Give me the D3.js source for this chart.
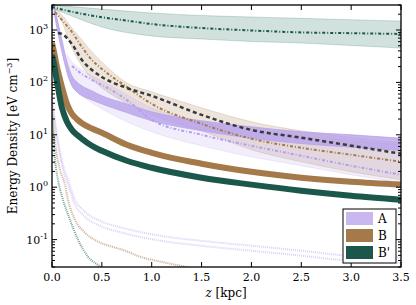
<!DOCTYPE html>
<html>
<head>
<meta charset="utf-8">
<script src="https://cdn.jsdelivr.net/npm/d3@7"></script>
<style>
  body { margin: 0; background: #fff; }
  svg { display: block; font-family: 'DejaVu Serif', serif; }
</style>
</head>
<body>
<div id="chart"></div>
<script>
// heights z [kpc] and energy densities [eV cm^-3]

// B' upper component (dash-dot) and its band
const zTealLine = [0, 0.1, 0.2, 0.3, 0.5, 0.75, 1, 1.5, 2, 2.5, 3, 3.5];
const tealLine = [2740, 2460, 2230, 2040, 1750, 1510, 1300, 1090, 980, 900, 870, 840];
const zTealBand = [0, 0.25, 0.5, 1, 1.5, 2, 2.5, 3, 3.5];
const tealBandHi = [2990, 2740, 2510, 2110, 1890, 1770, 1670, 1570, 1480];
const tealBandLo = [2620, 1690, 1140, 770, 675, 604, 565, 507, 454];

// B band (tan), B dotted, dark dashed
const zTan = [0.03, 0.1, 0.2, 0.3, 0.4, 0.5, 0.75, 1, 1.5, 2, 2.5, 3, 3.5];
const tanBandHi = [2620, 1930, 1090, 645, 381, 246, 98, 66, 32.7, 17.7, 11.9, 8.8, 7.0];
const tanBandLo = [2400, 1420, 454, 206, 117, 78.5, 40.7, 24, 11.9, 5.2, 3.06, 1.97, 1.39];
const brownDotted = [2200, 1550, 916, 474, 268, 181, 82, 38.9, 16.2, 8.4, 5.65, 4.16, 3.06];
const zDashed = [0.06, 0.1, 0.2, 0.3, 0.4, 0.5, 0.75, 1, 1.5, 2, 2.5, 3, 3.5];
const darkDashed = [877, 839, 541, 268, 173, 127, 78.5, 55.4, 24, 12.4, 8.8, 6.2, 4.35];

// A band (purple)
const zA = [0.02, 0.05, 0.1, 0.15, 0.2, 0.25, 0.3, 0.4, 0.5, 0.75, 1, 1.5, 2, 2.5, 3, 3.5];
const aHi = [2990, 1690, 645, 246, 133, 102, 85.8, 68.9, 55.4, 38.9, 27.4, 18.5, 14.2, 11.4, 10, 8.6];
const aLo = [2200, 1090, 381, 158, 85.8, 65.9, 55.4, 46.4, 38.9, 26.5, 18.5, 12.0, 8.6, 6.8, 5.8, 5.0];

// A light band and dotted
const zLav = [0.15, 0.2, 0.3, 0.4, 0.5, 0.75, 1, 1.5, 2, 2.5, 3, 3.5];
const lavHi = [334, 246, 173, 133, 107, 57.8, 32.7, 17.7, 11.9, 9.16, 7.69, 6.45];
const lavLo = [139, 89.6, 57.8, 40.7, 31.3, 17.7, 11.4, 6.17, 3.81, 2.57, 1.73, 1.22];
const zLavDot = [0.2, 0.3, 0.4, 0.5, 0.75, 1, 1.5, 2, 2.5, 3, 3.5];
const lavDotted = [206, 145, 112, 89.6, 46.4, 19.3, 10, 6.17, 3.98, 2.57, 1.73];

// thick lines B and B'
const zThick = [0, 0.02, 0.05, 0.1, 0.15, 0.2, 0.25, 0.3, 0.4, 0.5, 0.75, 1, 1.5, 2, 2.5, 3, 3.5];
const thickB = [565, 381, 197, 82, 38.9, 25.1, 19.8, 16.6, 13.2, 10.9, 6.45, 4.54, 2.81, 1.97, 1.52, 1.27, 1.12];
const thickBp = [334, 225, 102, 32.7, 17.7, 12.4, 10, 8.4, 6.17, 4.95, 3.2, 2.35, 1.52, 1.12, 0.857, 0.689, 0.578];

// faint dotted components
const zFaintTeal = [0, 0.03, 0.06, 0.11, 0.18, 0.26, 0.36, 0.48, 0.58];
const faintTeal = [24, 3.34, 1.39, 0.578, 0.24, 0.1, 0.0474, 0.0306, 0.0197];
const zFaintBrown = [0, 0.04, 0.08, 0.13, 0.16, 0.23, 0.33, 0.46, 0.6, 0.73, 0.88, 1.13, 1.38, 1.69];
const faintBrown = [29.9, 5.18, 2.15, 1.12, 0.578, 0.24, 0.136, 0.0917, 0.0736, 0.0617, 0.0474, 0.0365, 0.0293, 0.0216];
const zFaintLav = [0, 0.06, 0.11, 0.16, 0.23, 0.33, 0.5, 0.7, 1.08, 1.48, 2.09, 2.49, 2.96, 3.5];
const faintLav1 = [46.4, 8.03, 2.68, 1.39, 0.578, 0.341, 0.22, 0.169, 0.119, 0.0957, 0.0736, 0.0617, 0.0495, 0.0454];
const faintLav2 = [37.3, 6.45, 2.15, 1.12, 0.464, 0.274, 0.177, 0.136, 0.0957, 0.0769, 0.059, 0.0495, 0.0398, 0.0365];

const xTicks = [0, 0.5, 1, 1.5, 2, 2.5, 3, 3.5];
const yTicks = [0.1, 1, 10, 100, 1000];
const legendItems = ['A', 'B', "B'"];
const legendColors = ['#c8b8ef', '#a57a4a', '#1b584b'];

const width = 416, height = 305;
const m = { left: 52, right: 401, top: 5, bottom: 267 };

const x = d3.scaleLinear().domain([0, 3.5]).range([m.left, m.right]);
const y = d3.scaleLog().domain([0.03, 3000]).range([m.bottom, m.top]);

const svg = d3.select('#chart').append('svg')
  .attr('width', width).attr('height', height);

svg.append('defs').append('clipPath').attr('id', 'clip')
  .append('rect')
  .attr('x', m.left).attr('y', m.top)
  .attr('width', m.right - m.left).attr('height', m.bottom - m.top);

const plot = svg.append('g').attr('clip-path', 'url(#clip)');

const zip = (zs, vs) => zs.map((z, i) => [z, vs[i]]);
const line = d3.line().x(d => x(d[0])).y(d => y(d[1])).curve(d3.curveMonotoneX);
const area = d3.area().x(d => x(d[0])).y0(d => y(d[2])).y1(d => y(d[1])).curve(d3.curveMonotoneX);
const band = (zs, hi, lo) => zs.map((z, i) => [z, hi[i], lo[i]]);

function drawBand(zs, hi, lo, color, op) {
  plot.append('path')
    .attr('d', area(band(zs, hi, lo)))
    .attr('fill', color).attr('fill-opacity', op)
    .attr('stroke', color).attr('stroke-opacity', op * 1.3).attr('stroke-width', 0.8);
}

function drawLine(zs, vs, color, w, dash, op) {
  plot.append('path')
    .attr('d', line(zip(zs, vs)))
    .attr('fill', 'none')
    .attr('stroke', color).attr('stroke-width', w)
    .attr('stroke-dasharray', dash)
    .attr('stroke-opacity', op == null ? 1 : op);
}

// bands
drawBand(zTealBand, tealBandHi, tealBandLo, '#1b6b58', 0.2);
drawBand(zTan, tanBandHi, tanBandLo, '#a57a4a', 0.2);
drawBand(zLav, lavHi, lavLo, '#b9a4ec', 0.2);
drawBand(zA, aHi, aLo, '#b7a1ea', 0.8);

// faint dotted components
drawLine(zFaintTeal, faintTeal, '#1b6b58', 2, '1,1', 0.6);
drawLine(zFaintBrown, faintBrown, '#a57a4a', 2, '1,1', 0.6);
drawLine(zFaintLav, faintLav1, '#b9a4ec', 2, '1,1', 0.5);
drawLine(zFaintLav, faintLav2, '#b9a4ec', 2, '1,1', 0.5);

// thick lines
drawLine(zThick, thickB, '#a57a4a', 6, null);
drawLine(zThick, thickBp, '#1b584b', 6, null);

// dotted / dashed lines on top
drawLine(zLavDot, lavDotted, '#b29ef0', 2, '3,2,1,2');
drawLine(zTan, brownDotted, '#a57a4a', 2, '3,2,1,2');
drawLine(zDashed, darkDashed, '#3a3a3a', 2.5, '4,3');
drawLine(zTealLine, tealLine, '#1b584b', 2, '3,2,1,2');

// frame
svg.append('rect')
  .attr('x', m.left).attr('y', m.top)
  .attr('width', m.right - m.left).attr('height', m.bottom - m.top)
  .attr('fill', 'none').attr('stroke', '#000').attr('stroke-width', 1.3);

// x ticks (inside, bottom and top)
const ax = svg.append('g').attr('stroke', '#000').attr('stroke-width', 1);
xTicks.forEach(t => {
  ax.append('line').attr('x1', x(t)).attr('x2', x(t)).attr('y1', m.bottom).attr('y2', m.bottom - 5);
  ax.append('line').attr('x1', x(t)).attr('x2', x(t)).attr('y1', m.top).attr('y2', m.top + 5);
});
svg.append('g').selectAll('text').data(xTicks).join('text')
  .attr('x', d => x(d)).attr('y', 281)
  .attr('text-anchor', 'middle').attr('font-size', 11)
  .text(d => d.toFixed(1));

// y ticks, log major + minor
const minor = [];
for (let e = -2; e <= 3; e++) {
  for (let k = 2; k <= 9; k++) {
    const v = k * Math.pow(10, e);
    if (v >= 0.03 && v <= 3000) minor.push(v);
  }
}
minor.forEach(v => {
  ax.append('line').attr('x1', m.left).attr('x2', m.left + 3).attr('y1', y(v)).attr('y2', y(v));
  ax.append('line').attr('x1', m.right).attr('x2', m.right - 3).attr('y1', y(v)).attr('y2', y(v));
});
yTicks.forEach(v => {
  ax.append('line').attr('x1', m.left).attr('x2', m.left + 5).attr('y1', y(v)).attr('y2', y(v));
  ax.append('line').attr('x1', m.right).attr('x2', m.right - 5).attr('y1', y(v)).attr('y2', y(v));
});
const yl = svg.append('g').selectAll('text').data(yTicks).join('text')
  .attr('x', m.left - 4).attr('y', d => y(d) + 4)
  .attr('text-anchor', 'end').attr('font-size', 11);
yl.append('tspan').text('10');
yl.append('tspan').attr('dy', -5).attr('font-size', 8).text(d => Math.round(Math.log10(d)));

// axis labels
svg.append('text')
  .attr('transform', 'translate(17,136) rotate(-90)')
  .attr('text-anchor', 'middle').attr('font-size', 12)
  .call(t => {
    t.append('tspan').text('Energy Density [eV cm');
    t.append('tspan').attr('dy', -5).attr('font-size', 8).text('\u22123');
    t.append('tspan').attr('dy', 5).text(']');
  });
svg.append('text')
  .attr('x', 226).attr('y', 297)
  .attr('text-anchor', 'middle').attr('font-size', 12)
  .call(t => {
    t.append('tspan').attr('font-style', 'italic').text('z');
    t.append('tspan').text(' [kpc]');
  });

// legend
const lg = svg.append('g');
lg.append('rect').attr('x', 343).attr('y', 209).attr('width', 53).attr('height', 54)
  .attr('fill', '#fff').attr('stroke', '#000').attr('stroke-width', 1);
legendItems.forEach((name, i) => {
  const yy = 212 + i * 17;
  lg.append('rect').attr('x', 346).attr('y', yy).attr('width', 27).attr('height', 13)
    .attr('fill', legendColors[i]);
  lg.append('text').attr('x', 378).attr('y', yy + 11).attr('font-size', 12).text(name);
});
</script>
</body>
</html>
